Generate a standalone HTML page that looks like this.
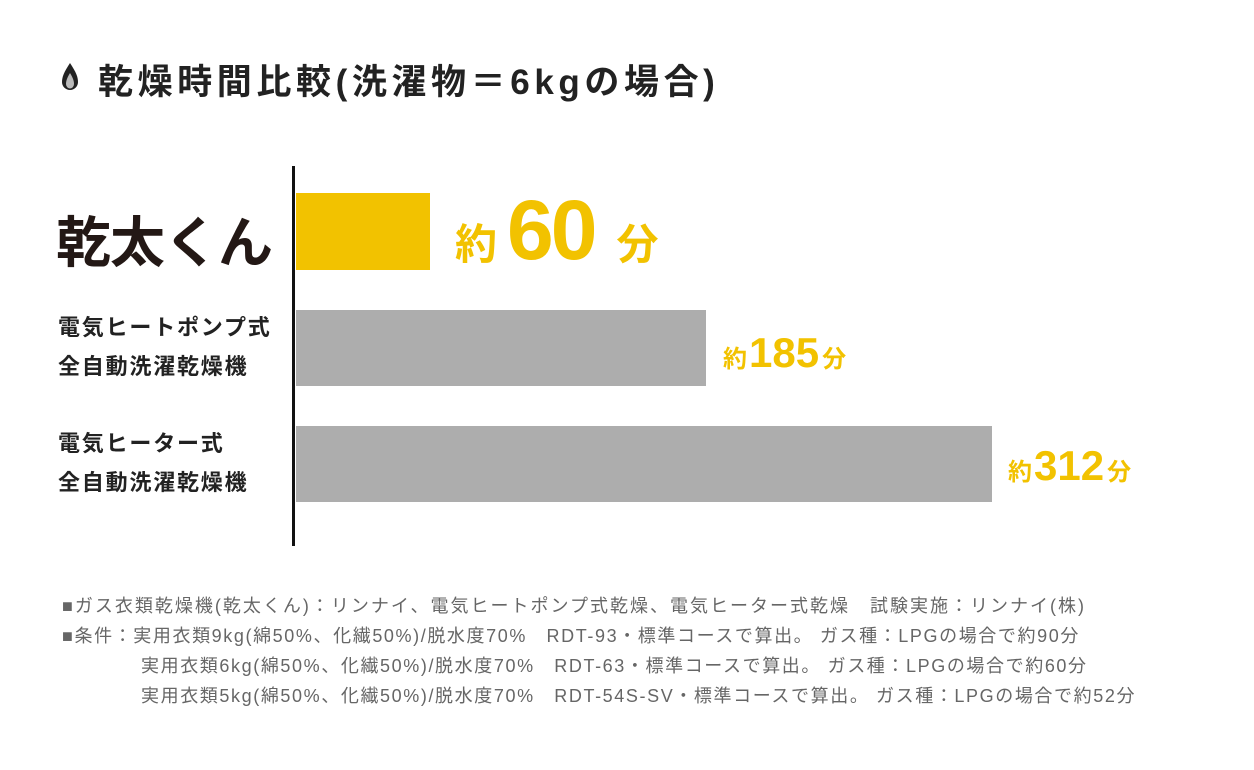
<!DOCTYPE html>
<html><head><meta charset="utf-8"><style>
body{margin:0;width:1254px;height:770px;background:#fff;position:relative;overflow:hidden;font-family:"Liberation Sans","Noto Sans CJK JP",sans-serif;}
.a{position:absolute;white-space:nowrap;}
.t{font-size:35px;font-weight:bold;color:#222;left:98px;top:54px;letter-spacing:4.6px}
.lab{font-size:22px;font-weight:bold;color:#222;line-height:39px;left:58px;letter-spacing:1.8px}
.y{color:#f2c200;font-weight:bold}
.n{font-size:18px;color:#666;left:62px;letter-spacing:2px}
.n2{letter-spacing:1.6px}
</style></head><body>
<svg class="a" style="left:60px;top:62px" width="20" height="30" viewBox="0 0 20 30"><path d="M10 1 C4 10 2 15 2 20 A8 8 0 0 0 18 20 C18 15 16 10 10 1Z" fill="#222"/><path d="M10 11 C7 16 6 19 6 22 A4 4.5 0 0 0 14 22 C14 19 13 16 10 11Z" fill="#bbb"/></svg>
<div class="a t">乾燥時間比較(洗濯物＝6kgの場合)</div>
<div class="a" style="left:292px;top:166px;width:3px;height:380px;background:#111"></div>
<div class="a" style="left:296px;top:193px;width:134px;height:77px;background:#f2c200"></div>
<div class="a" style="left:296px;top:310px;width:410px;height:76px;background:#adadad"></div>
<div class="a" style="left:296px;top:426px;width:696px;height:76px;background:#adadad"></div>
<div class="a" style="left:56px;top:198px;font-size:55px;font-weight:bold;color:#231815;letter-spacing:-1px">乾太くん</div>
<div class="a lab" style="top:308px">電気ヒートポンプ式<br>全自動洗濯乾燥機</div>
<div class="a lab" style="top:424px">電気ヒーター式<br>全自動洗濯乾燥機</div>
<div class="a y" style="left:455px;top:190px;line-height:80px"><span style="font-size:42px">約</span><span style="font-size:84px;letter-spacing:-3px;margin:0 22px 0 10px">60</span><span style="font-size:42px">分</span></div>
<div class="a y" style="left:723px;top:328px;line-height:50px"><span style="font-size:24px">約</span><span style="font-size:42px;margin:0 3px 0 2px">185</span><span style="font-size:24px">分</span></div>
<div class="a y" style="left:1008px;top:441px;line-height:50px"><span style="font-size:24px">約</span><span style="font-size:42px;margin:0 3px 0 2px">312</span><span style="font-size:24px">分</span></div>
<div class="a n" style="top:592px">■ガス衣類乾燥機(乾太くん)：リンナイ、電気ヒートポンプ式乾燥、電気ヒーター式乾燥　試験実施：リンナイ(株)</div>
<div class="a n n2" style="top:622px">■条件：実用衣類9kg(綿50%、化繊50%)/脱水度70%　RDT-93・標準コースで算出。 ガス種：LPGの場合で約90分</div>
<div class="a n n2" style="top:652px;left:141px">実用衣類6kg(綿50%、化繊50%)/脱水度70%　RDT-63・標準コースで算出。 ガス種：LPGの場合で約60分</div>
<div class="a n n2" style="top:682px;left:141px">実用衣類5kg(綿50%、化繊50%)/脱水度70%　RDT-54S-SV・標準コースで算出。 ガス種：LPGの場合で約52分</div>
</body></html>
